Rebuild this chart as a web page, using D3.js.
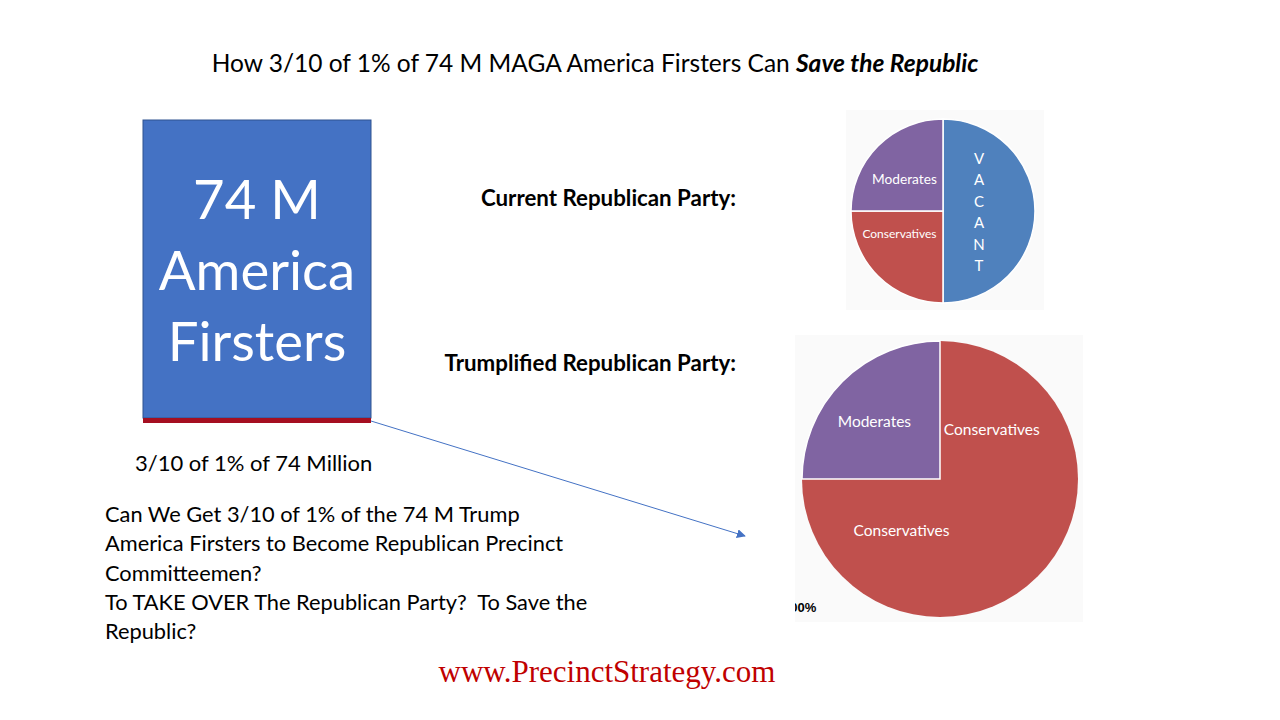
<!DOCTYPE html>
<html>
<head>
<meta charset="utf-8">
<script src="https://cdn.jsdelivr.net/npm/d3@7"></script>
<style>
  body { margin: 0; background: #fff; }
  svg { display: block; }
</style>
</head>
<body>
<div id="chart-area"></div>
<script>
// slide data
var titleText = "How 3/10 of 1% of 74 M MAGA America Firsters Can ";
var titleItalic = "Save the Republic";

var barLabels = ["74 M", "America", "Firsters"];
var barTotal = 74;          // million
var barShare = 0.003;       // 3/10 of 1%
var barCaption = "3/10 of 1% of 74 Million";

var questionLines = [
    "Can We Get 3/10 of 1% of the 74 M Trump",
    "America Firsters to Become Republican Precinct",
    "Committeemen?",
    "To TAKE OVER The Republican Party?  To Save the",
    "Republic?"
];

var currentTitle = "Current Republican Party:";
var currentLabels = ["VACANT", "Conservatives", "Moderates"];
var currentValues = [50, 25, 25];

var trumpTitle = "Trumplified Republican Party:";
var trumpLabels = ["Conservatives", "Conservatives", "Moderates"];
var trumpValues = [25, 50, 25];

var footer = "www.PrecinctStrategy.com";

var colors = {
    "VACANT": "#4f81bd",
    "Conservatives": "#c0504d",
    "Moderates": "#8064a2"
};

var width = 1280, height = 720;
var sans = "Lato, 'Open Sans', sans-serif";

var svg = d3.select("#chart-area").append("svg")
    .attr("width", width)
    .attr("height", height)
    .attr("font-family", sans);

// TITLE
var title = svg.append("text")
    .attr("x", 595)
    .attr("y", 72)
    .attr("text-anchor", "middle")
    .attr("font-size", 24.5)
    .attr("fill", "#000");
title.append("tspan").text(titleText);
title.append("tspan")
    .attr("font-weight", "bold")
    .attr("font-style", "italic")
    .text(titleItalic);

// BIG BAR
var y = d3.scaleLinear()
    .domain([0, barTotal])
    .range([418, 120]);

var bar = svg.append("g");

bar.append("rect")
    .attr("x", 143)
    .attr("y", y(barTotal))
    .attr("width", 228)
    .attr("height", y(0) - y(barTotal))
    .attr("fill", "#4472c4")
    .attr("stroke", "#2f528f")
    .attr("stroke-width", 1);

// the 3/10 of 1% slice, drawn with a minimum thickness so it shows
var shareH = Math.max(y(0) - y(barTotal * barShare), 5);
bar.append("rect")
    .attr("x", 143)
    .attr("y", y(0))
    .attr("width", 228)
    .attr("height", shareH)
    .attr("fill", "#a50f21");

barLabels.forEach(function(t, i) {
    bar.append("text")
        .attr("x", 257)
        .attr("y", 219 + i * 71)
        .attr("text-anchor", "middle")
        .attr("font-size", 54.5)
        .attr("fill", "#fff")
        .text(t);
});

svg.append("text")
    .attr("x", 135)
    .attr("y", 471)
    .attr("font-size", 22)
    .attr("fill", "#000")
    .text(barCaption);

questionLines.forEach(function(t, i) {
    svg.append("text")
        .attr("x", 105)
        .attr("y", 522 + i * 29.3)
        .attr("font-size", 21.8)
        .attr("fill", "#000")
        .style("white-space", "pre")
        .text(t);
});

// ARROW
svg.append("defs").append("marker")
    .attr("id", "arrow")
    .attr("viewBox", "0 0 10 10")
    .attr("refX", 9)
    .attr("refY", 5)
    .attr("markerWidth", 9)
    .attr("markerHeight", 9)
    .attr("markerUnits", "userSpaceOnUse")
    .attr("orient", "auto")
    .append("path")
        .attr("d", "M0,0 L10,5 L0,10 z")
        .attr("fill", "#4472c4");

svg.append("line")
    .attr("x1", 371)
    .attr("y1", 421)
    .attr("x2", 745)
    .attr("y2", 536)
    .attr("stroke", "#4472c4")
    .attr("stroke-width", 1)
    .attr("marker-end", "url(#arrow)");

// PIE TITLES
svg.append("text")
    .attr("x", 736)
    .attr("y", 206)
    .attr("text-anchor", "end")
    .attr("font-size", 22.3)
    .attr("font-weight", "bold")
    .text(currentTitle);

svg.append("text")
    .attr("x", 736)
    .attr("y", 371)
    .attr("text-anchor", "end")
    .attr("font-size", 22.3)
    .attr("font-weight", "bold")
    .text(trumpTitle);

var pie = d3.pie().sort(null).value(function(d) { return d.value; });

function makeData(labels, values) {
    return labels.map(function(l, i) { return { label: l, value: values[i] }; });
}

// CURRENT PIE
var p1 = svg.append("g");
p1.append("rect")
    .attr("x", 846).attr("y", 110)
    .attr("width", 198).attr("height", 200)
    .attr("fill", "#fafafa");

var r1 = 92;
var g1 = p1.append("g").attr("transform", "translate(943,211)");
var arc1 = d3.arc().innerRadius(0).outerRadius(r1);
var arcs1 = pie(makeData(currentLabels, currentValues));

g1.selectAll("path")
    .data(arcs1)
    .enter()
    .append("path")
        .attr("d", arc1)
        .attr("fill", function(d) { return colors[d.data.label]; })
        .attr("stroke", "#fff")
        .attr("stroke-width", 1.5);

var lab1 = d3.arc().innerRadius(r1 * 0.5).outerRadius(r1 * 0.5);
arcs1.forEach(function(d) {
    var c = lab1.centroid(d);
    if (d.data.label === "VACANT") {
        var letters = d.data.label.split("");
        letters.forEach(function(ch, i) {
            g1.append("text")
                .attr("x", c[0] - 10)
                .attr("y", c[1] - 47 + i * 21.4)
                .attr("text-anchor", "middle")
                .attr("font-size", 15)
                .attr("fill", "#fff")
                .text(ch);
        });
    } else {
        var mod = d.data.label === "Moderates";
        g1.append("text")
            .attr("x", c[0] - (mod ? 6 : 11))
            .attr("y", c[1] + (mod ? 6 : -6))
            .attr("text-anchor", "middle")
            .attr("font-size", mod ? 13.7 : 12)
            .attr("fill", "#fff")
            .text(d.data.label);
    }
});

// TRUMPLIFIED PIE
var p2 = svg.append("g");
p2.append("rect")
    .attr("x", 795).attr("y", 335)
    .attr("width", 288).attr("height", 287)
    .attr("fill", "#fafafa");

p2.append("text")
    .attr("x", 783)
    .attr("y", 612)
    .attr("font-size", 13)
    .attr("font-weight", "bold")
    .style("font-family", "'Liberation Sans', sans-serif")
    .text("100%");
p2.append("rect")
    .attr("x", 700).attr("y", 590)
    .attr("width", 95).attr("height", 30)
    .attr("fill", "#fff");

var r2 = 138;
var g2 = p2.append("g").attr("transform", "translate(940,479)");
var arc2 = d3.arc().innerRadius(0).outerRadius(r2);
var arcs2 = pie(makeData(trumpLabels, trumpValues));

g2.selectAll("path")
    .data(arcs2)
    .enter()
    .append("path")
        .attr("d", arc2)
        .attr("fill", function(d) { return colors[d.data.label]; })
        .attr("stroke", function(d) { return d.data.label === "Moderates" ? "#fff" : "none"; })
        .attr("stroke-width", 1.5);

arcs2.forEach(function(d, i) {
    // place label partway round each slice
    var frac = i === 1 ? 0.7 : 0.5;
    var a = d.startAngle + (d.endAngle - d.startAngle) * frac;
    var rr = r2 * (i === 2 ? 0.58 : 0.5);
    var cx = Math.sin(a) * rr, cy = -Math.cos(a) * rr;
    g2.append("text")
        .attr("x", cx + [3, 2, -9][i])
        .attr("y", cy + [5, 1, 5][i])
        .attr("text-anchor", "middle")
        .attr("font-size", 15.5)
        .attr("fill", "#fff")
        .text(d.data.label);
});

// FOOTER
svg.append("text")
    .attr("x", 607)
    .attr("y", 682)
    .attr("text-anchor", "middle")
    .style("font-family", "'Liberation Serif', 'Times New Roman', serif")
    .attr("font-size", 31)
    .attr("fill", "#c00000")
    .text(footer);
</script>
</body>
</html>
